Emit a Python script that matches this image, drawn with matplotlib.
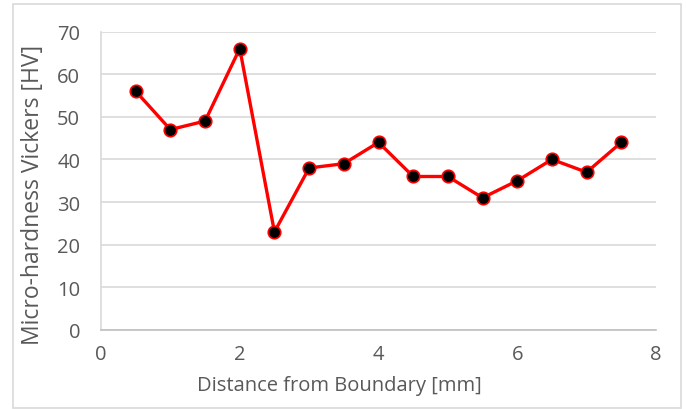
import matplotlib.pyplot as plt
from matplotlib.patches import Rectangle

distance = [0.5, 1.0, 1.5, 2.0, 2.5, 3.0, 3.5, 4.0, 4.5, 5.0, 5.5, 6.0, 6.5, 7.0, 7.5]
hardness = [56, 47, 49, 66, 23, 38, 39, 44, 36, 36, 31, 35, 40, 37, 44]
x_ticks = [0, 2, 4, 6, 8]
y_ticks = [0, 10, 20, 30, 40, 50, 60, 70]

plt.rcParams['font.family'] = ['Open Sans', 'DejaVu Sans']
text_color = '#595959'
grid_color = '#d9d9d9'

fig = plt.figure(figsize=(6.86, 4.10), dpi=100)
ax = fig.add_axes([101 / 686, 1 - 331 / 410, (656 - 101) / 686, (331 - 32.5) / 410])

# outer chart border
fig.patches.append(Rectangle((12.5 / 686, 1 - 408.5 / 410), (681 - 12.5) / 686, (408.5 - 4.5) / 410,
                             transform=fig.transFigure, fill=False, edgecolor=grid_color, lw=1.2))

ax.plot(distance, hardness, color='#ff0000', lw=2.4, marker='o', markersize=9,
        markerfacecolor='black', markeredgecolor='#ff0000', markeredgewidth=1.2, zorder=3)

ax.set_xlim(0, 8)
ax.set_ylim(0, 70)
ax.set_xticks(x_ticks)
ax.set_yticks(y_ticks)
ax.yaxis.grid(True, color=grid_color, lw=1.2)
ax.set_axisbelow(True)
for side in ['top', 'right']:
    ax.spines[side].set_visible(False)
ax.spines['left'].set_color(grid_color)
ax.spines['bottom'].set_color('#bfbfbf')
ax.spines['left'].set_linewidth(1.2)
ax.spines['bottom'].set_linewidth(1.2)
ax.tick_params(length=0, labelsize=14.5, labelcolor=text_color)
ax.tick_params(axis='y', pad=15)
ax.tick_params(axis='x', pad=10)

# titles sit a bit off-centre like the Excel original
ax.set_xlabel('Distance from Boundary [mm]', fontsize=14.5, color=text_color)
ax.set_ylabel('Micro-hardness Vickers [HV]', fontsize=16.5, color=text_color)
ax.xaxis.set_label_coords(0.43, -0.15)
ax.yaxis.set_label_coords(-0.1, 0.455)

fig.savefig('out.png', dpi=100)
